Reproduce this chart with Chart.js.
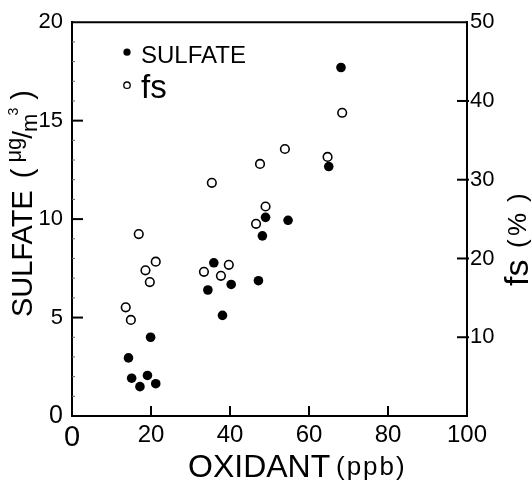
<!DOCTYPE html>
<html><head><meta charset="utf-8">
<script src="https://cdn.jsdelivr.net/npm/chart.js@4.4.1/dist/chart.umd.min.js"></script>
<style>html,body{margin:0;padding:0;background:#fff;}#wrap{width:531px;height:480px;}</style>
</head><body><div id="wrap"><canvas id="c" width="531" height="480"></canvas></div>
<script>
// ---- data ----
const oxidantSulfate = [68.1, 65.0, 49.0, 54.7, 48.2, 35.9, 40.3, 34.4, 47.2, 38.1, 19.9, 14.3, 15.1, 19.1, 17.2, 21.2];
const sulfate        = [17.7, 12.67, 10.09, 9.94, 9.15, 7.78, 6.68, 6.40, 6.87, 5.11, 4.0, 2.95, 1.92, 2.06, 1.49, 1.64];
const oxidantFs      = [68.4, 53.9, 64.7, 47.6, 35.4, 49.0, 46.6, 16.9, 21.2, 18.6, 19.7, 39.7, 33.4, 37.7, 13.6, 14.9];
const fsValues       = [38.5, 33.9, 32.9, 32.0, 29.6, 26.6, 24.4, 23.1, 19.6, 18.5, 17.0, 19.2, 18.3, 17.8, 13.8, 12.2];
const xTicks = [0, 20, 40, 60, 80, 100];
const sulfateTicks = [0, 5, 10, 15, 20];
const fsTicks = [10, 20, 30, 40, 50];
const seriesLabels = ['SULFATE', 'fs'];
const xTitle = ['OXIDANT', '(ppb)'];
const yTitle = ['SULFATE', '(', 'μg', '/', 'm', '3', ')'];
const y2Title = ['fs', '(', '%', ')'];

const FAM = "'Liberation Sans', Arial, sans-serif";

const toPoints = (xs, ys) => xs.map((x, i) => ({x: x, y: ys[i]}));

const decor = {
  id: 'decor',
  afterDraw(chart) {
    const ctx = chart.ctx;
    const {left, right, top, bottom} = chart.chartArea;
    const sx = chart.scales.x, sy = chart.scales.y, sy2 = chart.scales.y2;
    ctx.save();
    ctx.strokeStyle = '#000';
    ctx.fillStyle = '#000';
    const line = (x1, y1, x2, y2) => { ctx.beginPath(); ctx.moveTo(x1, y1); ctx.lineTo(x2, y2); ctx.stroke(); };
    // top frame
    ctx.lineWidth = 2;
    line(left - 1, top, right + 1, top);
    // inward major ticks
    xTicks.slice(1, -1).forEach(v => { const p = sx.getPixelForValue(v); line(p, bottom, p, bottom - 10); });
    sulfateTicks.slice(1, -1).forEach(v => { const p = sy.getPixelForValue(v); line(left, p, left + 11, p); });
    fsTicks.slice(0, -1).forEach(v => { const p = sy2.getPixelForValue(v); line(right + 2, p, right - 10, p); });
    // faint minor ticks on left axis
    ctx.lineWidth = 1;
    ctx.strokeStyle = '#666';
    for (let v = 1; v < 20; v++) { if (v % 5 === 0) continue; const p = sy.getPixelForValue(v); line(left, p, left + 3, p); }
    ctx.strokeStyle = '#000';

    // legend
    const lx = left + 55;
    ctx.beginPath(); ctx.arc(lx, top + 30, 3.6, 0, Math.PI * 2); ctx.fill();
    ctx.font = '24px ' + FAM; ctx.textBaseline = 'alphabetic'; ctx.textAlign = 'left';
    ctx.fillText(seriesLabels[0], lx + 14, top + 41);
    ctx.lineWidth = 1.3;
    ctx.beginPath(); ctx.arc(lx, top + 63, 3.2, 0, Math.PI * 2); ctx.stroke();
    ctx.font = '33px ' + FAM;
    ctx.fillText(seriesLabels[1], lx + 14, top + 76);

    // x title
    ctx.font = '32px ' + FAM;
    ctx.fillText(xTitle[0], 188, 477);
    ctx.font = '26px ' + FAM;
    ctx.letterSpacing = '2px';
    ctx.fillText(xTitle[1], 336, 475);
    ctx.letterSpacing = '0px';

    // left title (rotated)
    ctx.save();
    ctx.translate(32, 317); ctx.rotate(-Math.PI / 2);
    let p = 0;
    ctx.font = '29px ' + FAM; ctx.fillText(yTitle[0], p, 0); p += ctx.measureText(yTitle[0]).width + 12;
    ctx.fillText(yTitle[1], p, 0); p += ctx.measureText(yTitle[1]).width + 6;
    ctx.font = '22px ' + FAM; ctx.fillText(yTitle[2], p, -11); p += ctx.measureText(yTitle[2]).width - 1;
    ctx.font = '28px ' + FAM; ctx.fillText(yTitle[3], p, 0); p += ctx.measureText(yTitle[3]).width - 1;
    ctx.font = '22px ' + FAM; ctx.fillText(yTitle[4], p, 5); p += ctx.measureText(yTitle[4]).width;
    ctx.font = '14px ' + FAM; ctx.fillText(yTitle[5], p - 2, -14); p += ctx.measureText(yTitle[5]).width + 6;
    ctx.font = '29px ' + FAM; ctx.fillText(yTitle[6], p, 0);
    ctx.restore();

    // right title (rotated)
    ctx.save();
    ctx.translate(528, 286); ctx.rotate(-Math.PI / 2);
    ctx.font = '34px ' + FAM; ctx.fillText(y2Title[0], 0, 0);
    ctx.font = '26px ' + FAM;
    ctx.fillText(y2Title[1], 38, -2);
    ctx.fillText(y2Title[2], 50, -2);
    ctx.fillText(y2Title[3], 84, -2);
    ctx.restore();

    ctx.restore();
  }
};

new Chart(document.getElementById('c'), {
  type: 'scatter',
  data: {
    datasets: [
      { label: seriesLabels[0], data: toPoints(oxidantSulfate, sulfate), yAxisID: 'y',
        pointRadius: 4.8, pointBackgroundColor: '#000', pointBorderColor: '#000', pointBorderWidth: 0, showLine: false },
      { label: seriesLabels[1], data: toPoints(oxidantFs, fsValues), yAxisID: 'y2',
        pointRadius: 4.3, pointBackgroundColor: '#fff', pointBorderColor: '#000', pointBorderWidth: 1.6, showLine: false }
    ]
  },
  options: {
    responsive: false,
    animation: false,
    events: [],
    layout: { padding: { top: 21, left: 0, right: 0, bottom: 0 } },
    plugins: { legend: { display: false }, tooltip: { enabled: false }, title: { display: false } },
    scales: {
      x: {
        type: 'linear', position: 'bottom', min: 0, max: 100,
        afterBuildTicks: s => { s.ticks = xTicks.map(v => ({value: v})); },
        afterFit: s => { s.height = 64; },
        grid: { display: false, drawTicks: false },
        border: { display: true, color: '#000', width: 2 },
        ticks: { color: '#000', padding: 5, autoSkip: false, maxRotation: 0,
                 font: c => ({ family: FAM, size: c.index === 0 ? 29 : 24 }) }
      },
      y: {
        type: 'linear', position: 'left', min: 0, max: 20,
        afterBuildTicks: s => { s.ticks = sulfateTicks.map(v => ({value: v})); },
        afterFit: s => { s.width = 72; },
        grid: { display: false, drawTicks: false },
        border: { display: true, color: '#000', width: 2 },
        ticks: { color: '#000', padding: 9, font: c => ({ family: FAM, size: c.index === 0 ? 25 : 22 }) }
      },
      y2: {
        type: 'linear', position: 'right', min: 0, max: 50,
        afterBuildTicks: s => { s.ticks = fsTicks.map(v => ({value: v})); },
        afterFit: s => { s.width = 64; },
        grid: { display: false, drawTicks: false },
        border: { display: true, color: '#000', width: 2 },
        ticks: { color: '#000', padding: 3, font: { family: FAM, size: 22 } }
      }
    }
  },
  plugins: [decor]
});
</script></body></html>
